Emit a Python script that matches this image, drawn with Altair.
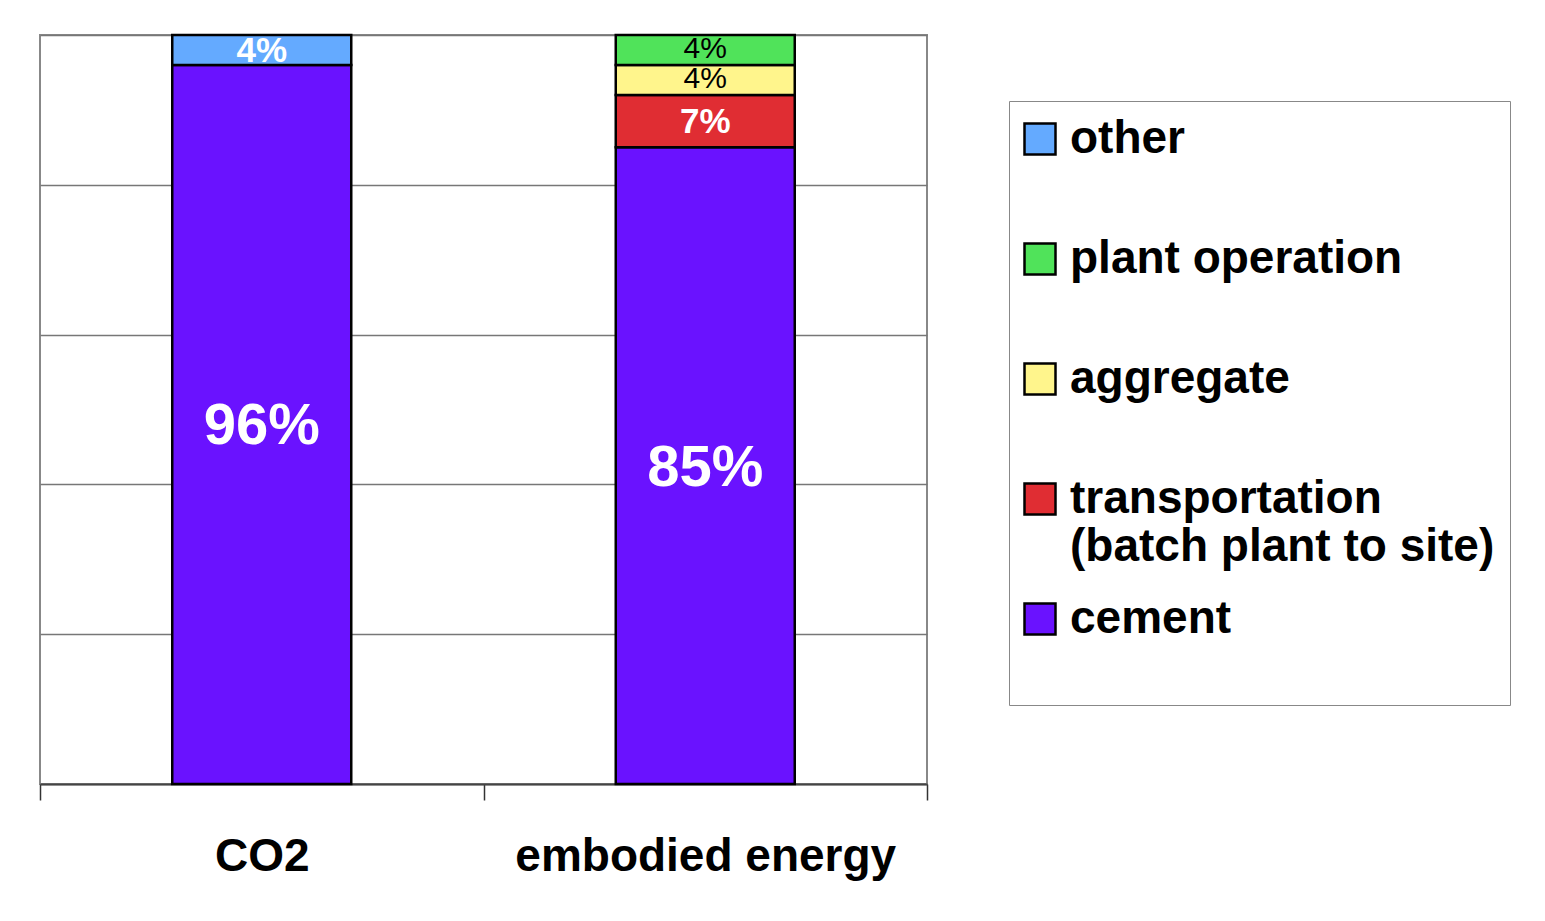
import altair as alt
import pandas as pd

metric = ["CO2", "CO2", "embodied energy", "embodied energy", "embodied energy", "embodied energy"]
segment = ["cement", "other", "cement", "transportation (batch plant to site)", "aggregate", "plant operation"]
value = [96, 4, 85, 7, 4, 4]

categories = ["CO2", "embodied energy"]
legend_order = ["other", "plant operation", "aggregate", "transportation (batch plant to site)", "cement"]
stack_order = ["cement", "transportation (batch plant to site)", "aggregate", "plant operation", "other"]
colors = ["#64AAFF", "#50E35A", "#FFF58C", "#E02D33", "#6A12FF"]

df = pd.DataFrame({"metric": metric, "segment": segment, "value": value})

FONT = "Liberation Sans"

base = alt.Chart(df).transform_calculate(
    rank="indexof(" + str(stack_order).replace("'", '"') + ", datum.segment)"
)

x_enc = alt.X(
    "metric:N",
    sort=categories,
    scale=alt.Scale(domain=categories, paddingInner=0, paddingOuter=0),
    axis=alt.Axis(
        title=None,
        labelAngle=0,
        labelFont=FONT,
        labelFontSize=46,
        labelFontWeight="bold",
        labelColor="black",
        labelPadding=34,
        labelLimit=0,
        tickBand="extent",
        tickSize=16,
        tickColor="#333333",
        tickWidth=1.5,
        domainColor="#444444",
        domainWidth=2,
    ),
)

legend_label_expr = (
    "datum.label == 'transportation (batch plant to site)' ? ['transportation', '(batch plant to site)'] : "
    "datum.label == 'cement' ? ['cement', ''] : datum.label"
)

bars = base.mark_bar(size=179, stroke="black", strokeWidth=2.5).encode(
    x=x_enc,
    y=alt.Y(
        "value:Q",
        stack="zero",
        scale=alt.Scale(domain=[0, 100], nice=False),
        axis=alt.Axis(
            title=None,
            labels=False,
            ticks=False,
            domain=False,
            grid=True,
            gridColor="#777777",
            gridWidth=1.5,
            values=[0, 20, 40, 60, 80, 100],
        ),
    ),
    color=alt.Color(
        "segment:N",
        scale=alt.Scale(domain=legend_order, range=colors),
        legend=alt.Legend(
            title=None,
            orient="none",
            legendX=969,
            legendY=66,
            padding=15,
            gridAlign="all",
            symbolType="square",
            symbolSize=961,
            symbolOffset=-7,
            symbolStrokeColor="black",
            symbolStrokeWidth=2.5,
            symbolOpacity=1,
            labelFont=FONT,
            labelFontSize=46,
            labelFontWeight="bold",
            labelColor="black",
            labelBaseline="middle",
            labelOffset=7,
            labelLimit=0,
            rowPadding=26,
            strokeColor="#888888",
            fillColor="white",
            labelExpr=legend_label_expr,
        ),
    ),
    order=alt.Order("rank:Q", sort="ascending"),
)

stacked = base.transform_stack(
    stack="value", groupby=["metric"], as_=["y0", "y1"], sort=[alt.SortField("rank", order="ascending")]
).transform_calculate(
    mid="(datum.y0 + datum.y1) / 2",
    label="datum.value + '%'",
)

text_enc = dict(
    x=alt.X("metric:N", sort=categories),
    y=alt.Y("mid:Q"),
    text="label:N",
)

big = stacked.transform_filter("datum.value >= 50").mark_text(
    font=FONT, fontSize=58, fontWeight="bold", color="white", baseline="middle", dy=3
).encode(**text_enc)

white_small = stacked.transform_filter(
    "datum.segment == 'other' || indexof(datum.segment, 'transportation') == 0"
).mark_text(
    font=FONT, fontSize=35, fontWeight="bold", color="white", baseline="middle", dy=1
).encode(**text_enc)

black_small = stacked.transform_filter(
    "datum.segment == 'aggregate' || datum.segment == 'plant operation'"
).mark_text(
    font=FONT, fontSize=30, fontWeight="normal", color="black", baseline="middle", dy=-1
).encode(**text_enc)

chart = alt.layer(bars, big, white_small, black_small).properties(
    width=887,
    height=749,
    padding={"left": 32, "top": 27, "right": 600, "bottom": 120},
    autosize=alt.AutoSizeParams(type="none"),
    background="white",
).configure_view(stroke="#888888", strokeWidth=2)

chart.save("out.html", embed_options={"renderer": "svg", "actions": False})
